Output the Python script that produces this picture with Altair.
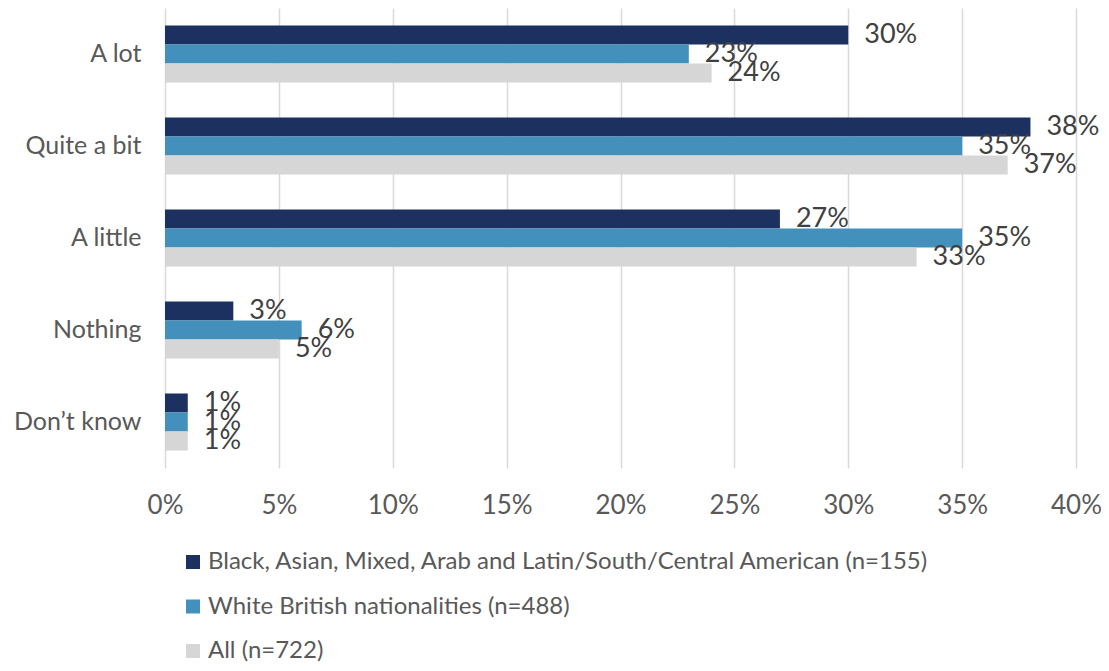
import altair as alt
import pandas as pd

categories = ["A lot", "Quite a bit", "A little", "Nothing", "Don\u2019t know"]
series = [
    "Black, Asian, Mixed, Arab and Latin/South/Central American (n=155)",
    "White British nationalities (n=488)",
    "All (n=722)",
]
colors = ["#1c3160", "#4490bd", "#d6d6d6"]
values = {
    series[0]: [30, 38, 27, 3, 1],
    series[1]: [23, 35, 35, 6, 1],
    series[2]: [24, 37, 33, 5, 1],
}
x_ticks = [0, 5, 10, 15, 20, 25, 30, 35, 40]

rows = []
for si, s in enumerate(series):
    for ci, c in enumerate(categories):
        v = values[s][ci]
        rows.append({"category": c, "series": s, "order": si,
                     "value": v / 100.0, "label": f"{v}%"})
df = pd.DataFrame(rows)

FONT = "Lato"
TXT = "#595959"

y_enc = alt.Y("category:N", sort=categories, title=None,
              scale=alt.Scale(paddingInner=0.38, paddingOuter=0.19),
              axis=alt.Axis(domain=False, ticks=False, labelFontSize=25,
                            labelColor=TXT, labelFont=FONT, labelPadding=24))
yoff = alt.YOffset("series:N", sort=series,
                   scale=alt.Scale(paddingInner=0, paddingOuter=0))
x_enc = alt.X("value:Q", title=None,
              scale=alt.Scale(domain=[0, 0.4], nice=False),
              axis=alt.Axis(format=".0%", values=[t / 100 for t in x_ticks],
                            domain=False, ticks=False, grid=True,
                            gridColor="#d9d9d9", gridWidth=1.5,
                            labelFontSize=26, labelColor=TXT, labelFont=FONT,
                            labelFlush=False, labelPadding=24))

base = alt.Chart(df)

bars = base.mark_bar(size=19).encode(
    y=y_enc, yOffset=yoff, x=x_enc,
    color=alt.Color("series:N", sort=series,
                    scale=alt.Scale(domain=series, range=colors),
                    legend=alt.Legend(title=None, orient="none",
                                      legendX=16, legendY=542,
                                      direction="vertical",
                                      symbolType="square", symbolSize=196,
                                      symbolStrokeWidth=0, labelFontSize=24,
                                      labelColor=TXT, labelFont=FONT,
                                      rowPadding=20.5, labelOffset=3,
                                      padding=0, labelLimit=1000)),
)

labels = base.mark_text(align="left", baseline="middle", dx=16,
                        fontSize=27, font=FONT, color="#404040").encode(
    y=alt.Y("category:N", sort=categories), yOffset=yoff,
    x=alt.X("value:Q"), text="label:N",
)

chart = alt.layer(bars, labels).properties(
    width=911, height=460,
    autosize=alt.AutoSizeParams(type="none"),
    padding={"left": 157, "top": 0, "right": 25, "bottom": 195},
).configure_view(stroke=None)

chart.save("out.html", embed_options={"renderer": "svg", "actions": False})
